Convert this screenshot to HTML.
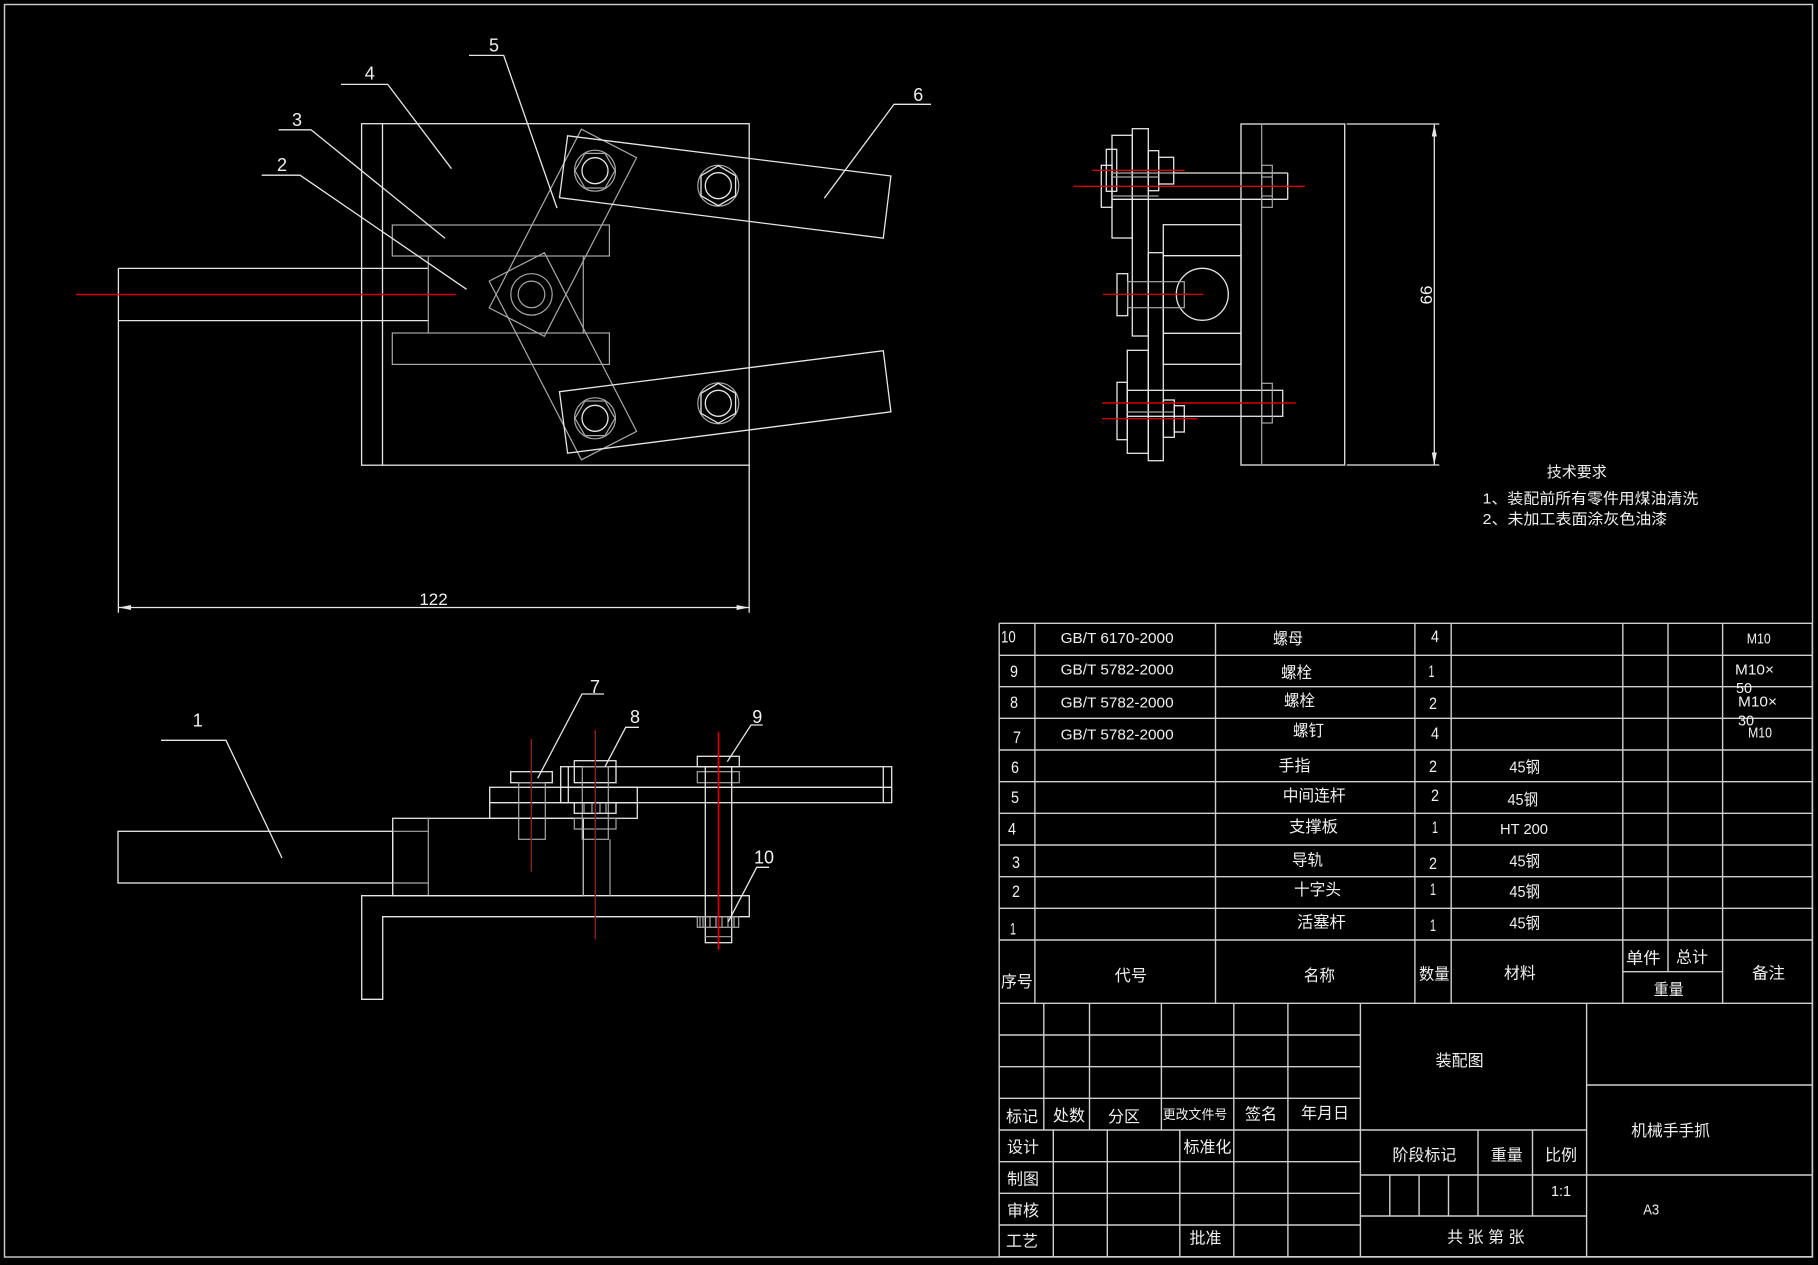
<!DOCTYPE html>
<html>
<head>
<meta charset="utf-8">
<style>
  html,body{margin:0;padding:0;background:#000;overflow:hidden;}
  svg{display:block;}
  .w{stroke:#e6e6e6;stroke-width:1.3;fill:none;}
  .g{stroke:#a8a8a8;stroke-width:1.2;fill:none;}
  .t{stroke:#cfcfcf;stroke-width:1.4;fill:none;}
  .r{stroke:#d00000;stroke-width:1.4;fill:none;}
  text{fill:#f0f0f0;}
  .lat{font-family:"Liberation Sans",sans-serif;}
  .cjk{font-family:"Liberation Sans","Noto Sans CJK SC",sans-serif;}
</style>
</head>
<body>
<svg width="1818" height="1265" viewBox="0 0 1818 1265" xmlns="http://www.w3.org/2000/svg">
<rect x="0" y="0" width="1818" height="1265" fill="#000"/>
<!-- outer border -->
<rect x="4.5" y="4.5" width="1808" height="1252.5" class="t"/>

<!-- ================= TOP VIEW ================= -->
<!-- plate -->
<rect x="361.6" y="123.7" width="387.6" height="341.5" class="w"/>
<line x1="382.5" y1="123.7" x2="382.5" y2="465.2" class="w"/>
<!-- rod -->
<line x1="118.4" y1="268.4" x2="428.3" y2="268.4" class="w"/>
<line x1="118.4" y1="320.6" x2="428.3" y2="320.6" class="w"/>
<line x1="118.4" y1="268.4" x2="118.4" y2="612.7" class="w"/>
<!-- crosshead -->
<line x1="428.3" y1="256" x2="428.3" y2="333" class="g"/>
<line x1="583.3" y1="256" x2="583.3" y2="333" class="g"/>
<!-- rails -->
<rect x="392.3" y="225" width="217.1" height="31" class="g"/>
<rect x="392.3" y="333" width="217.1" height="31.4" class="g"/>
<!-- links -->
<polygon points="544.4,252.7 636.6,431.4 581.4,459.8 489.2,281.1" class="g"/>
<polygon points="489.2,307.9 581.4,129.2 636.6,157.6 544.4,336.3" class="g"/>
<!-- pin -->
<circle cx="531.5" cy="294.4" r="20.7" class="g"/>
<circle cx="531.5" cy="294.4" r="13.3" class="g"/>
<!-- fingers -->
<polygon points="567.6,135.8 890.9,176 883.3,238.2 559.5,197.7" class="w"/>
<polygon points="559.5,391.7 883.3,350.7 890.9,411.8 567.6,453.2" class="w"/>
<!-- bolts -->
<circle cx="595" cy="170.7" r="20.5" class="g"/>
<polygon points="615,170.7 605,188 585,188 575,170.7 585,153.4 605,153.4" class="g"/>
<circle cx="595" cy="170.7" r="13" class="w"/>
<circle cx="718.3" cy="185.7" r="20.5" class="g"/>
<polygon points="718.3,165.7 735.6,175.7 735.6,195.7 718.3,205.7 701,195.7 701,175.7" class="w"/>
<circle cx="718.3" cy="185.7" r="13" class="w"/>
<circle cx="595" cy="418.3" r="20.5" class="g"/>
<polygon points="615,418.3 605,435.6 585,435.6 575,418.3 585,401 605,401" class="g"/>
<circle cx="595" cy="418.3" r="13" class="w"/>
<circle cx="718.3" cy="403.3" r="20.5" class="g"/>
<polygon points="718.3,383.3 735.6,393.3 735.6,413.3 718.3,423.3 701,413.3 701,393.3" class="w"/>
<circle cx="718.3" cy="403.3" r="13" class="w"/>
<!-- red center line -->
<line x1="76" y1="294.5" x2="456" y2="294.5" class="r"/>
<!-- dimension 122 -->
<line x1="749.2" y1="465.2" x2="749.2" y2="612.7" class="w"/>
<line x1="118.4" y1="607.5" x2="749.2" y2="607.5" class="w"/>
<polygon points="118.4,607.5 131,605 131,610" fill="#e6e6e6"/>
<polygon points="749.2,607.5 736.6,605 736.6,610" fill="#e6e6e6"/>
<text x="433.5" y="605" font-size="17" text-anchor="middle" class="lat">122</text>
<!-- leaders top view -->
<polyline points="341,84.4 387.7,84.4 451.5,168.7" class="w"/>
<text x="369.7" y="79.5" font-size="18" text-anchor="middle" class="lat">4</text>
<polyline points="278.6,129.8 311,129.8 445,238.2" class="w"/>
<text x="297" y="126" font-size="18" text-anchor="middle" class="lat">3</text>
<polyline points="261.7,175.2 300,175.2 466.6,289.3" class="w"/>
<text x="282" y="171" font-size="18" text-anchor="middle" class="lat">2</text>
<polyline points="469,55.4 503.7,55.4 557,208.1" class="w"/>
<text x="494" y="51.5" font-size="18" text-anchor="middle" class="lat">5</text>
<polyline points="931,104.3 894,104.3 824.3,198.3" class="w"/>
<text x="918.3" y="101" font-size="18" text-anchor="middle" class="lat">6</text>

<!-- ================= SIDE VIEW ================= -->
<rect x="1241" y="124" width="103.7" height="341" class="w"/>
<line x1="1261.7" y1="124" x2="1261.7" y2="465" class="g"/>
<line x1="1346.7" y1="124" x2="1439.3" y2="124" class="w"/>
<line x1="1346.7" y1="465" x2="1439.3" y2="465" class="w"/>
<line x1="1434.3" y1="124" x2="1434.3" y2="465" class="w"/>
<polygon points="1434.3,124 1431.8,136.5 1436.8,136.5" fill="#e6e6e6"/>
<polygon points="1434.3,465 1431.8,452.5 1436.8,452.5" fill="#e6e6e6"/>
<text x="0" y="0" font-size="17" text-anchor="middle" class="lat" transform="translate(1432,295) rotate(-90)">66</text>
<!-- upper cluster -->
<rect x="1132.3" y="128.7" width="16" height="207.3" class="w"/>
<rect x="1112" y="135.3" width="20.3" height="102.7" class="w"/>
<rect x="1106.3" y="149.3" width="10.4" height="42" class="w"/>
<rect x="1101.3" y="165.3" width="10.7" height="42" class="w"/>
<rect x="1148.3" y="150.7" width="10.4" height="40" class="w"/>
<rect x="1158.7" y="157.3" width="15" height="26.7" class="w"/>
<line x1="1173.7" y1="173" x2="1287.7" y2="173" class="w"/>
<line x1="1112" y1="199.3" x2="1287.7" y2="199.3" class="w"/>
<line x1="1287.7" y1="173" x2="1287.7" y2="199.3" class="w"/>
<line x1="1112" y1="173" x2="1173.7" y2="173" class="g"/>
<line x1="1112" y1="177" x2="1158.7" y2="177" class="g"/>
<line x1="1112" y1="196" x2="1158.7" y2="196" class="g"/>
<rect x="1261.7" y="165.3" width="10.6" height="42" class="g"/>
<line x1="1261.7" y1="177" x2="1272.3" y2="177" class="g"/>
<line x1="1261.7" y1="196" x2="1272.3" y2="196" class="g"/>
<line x1="1092" y1="170.3" x2="1184.7" y2="170.3" class="r"/>
<line x1="1073" y1="186.3" x2="1305" y2="186.3" class="r"/>
<!-- middle block -->
<rect x="1163.3" y="224.7" width="77.7" height="139.6" class="w"/>
<line x1="1163.3" y1="255.7" x2="1241" y2="255.7" class="w"/>
<line x1="1163.3" y1="333.3" x2="1241" y2="333.3" class="w"/>
<rect x="1148.3" y="252.7" width="15" height="208" class="w"/>
<circle cx="1202.3" cy="294.3" r="26" class="w"/>
<rect x="1117" y="273.7" width="10.7" height="42" class="w"/>
<rect x="1127.7" y="281.7" width="56.6" height="26" class="g"/>
<line x1="1103" y1="294.3" x2="1203" y2="294.3" class="r"/>
<!-- lower cluster -->
<rect x="1127.3" y="350.3" width="21" height="103" class="w"/>
<rect x="1117" y="382.3" width="10.3" height="57.4" class="w"/>
<rect x="1127.3" y="390.3" width="155.4" height="26" class="w"/>
<rect x="1261.7" y="383.3" width="10.6" height="39.7" class="g"/>
<rect x="1163.3" y="400" width="11" height="37.3" class="w"/>
<rect x="1174.3" y="405.7" width="10" height="26.3" class="w"/>
<line x1="1127.3" y1="412" x2="1174.3" y2="412" class="g"/>
<line x1="1102" y1="403" x2="1295.7" y2="403" class="r"/>
<line x1="1102" y1="418.7" x2="1197.7" y2="418.7" class="r"/>

<!-- tech requirements -->
<text x="1576.7" y="477" font-size="15" text-anchor="middle" class="cjk">技术要求</text>
<text x="1482.7" y="503.5" font-size="15" class="cjk" textLength="215.6" lengthAdjust="spacingAndGlyphs">1、装配前所有零件用煤油清洗</text>
<text x="1482.7" y="524.2" font-size="15" class="cjk" textLength="184.6" lengthAdjust="spacingAndGlyphs">2、未加工表面涂灰色油漆</text>

<!-- ================= FRONT VIEW ================= -->
<rect x="118" y="831.3" width="274.7" height="51.7" class="w"/>
<rect x="392.7" y="818.3" width="190.6" height="77.4" class="w"/>
<line x1="428.3" y1="818.3" x2="428.3" y2="895.7" class="g"/>
<line x1="392.7" y1="831.3" x2="428.3" y2="831.3" class="g"/>
<line x1="392.7" y1="883" x2="428.3" y2="883" class="g"/>
<polygon points="361.7,895.7 749.3,895.7 749.3,916.7 382.7,916.7 382.7,999.3 361.7,999.3" class="w"/>
<!-- block under bolt 7 -->
<rect x="489.7" y="787.3" width="147.6" height="31" class="w"/>
<line x1="489.7" y1="802.7" x2="637.3" y2="802.7" class="w"/>
<!-- finger side -->
<rect x="560.7" y="766.7" width="331" height="36" class="w"/>
<line x1="560.7" y1="787.3" x2="891.7" y2="787.3" class="w"/>
<line x1="568.3" y1="766.7" x2="568.3" y2="802.7" class="w"/>
<line x1="883.3" y1="766.7" x2="883.3" y2="802.7" class="w"/>
<!-- bolt 7 -->
<rect x="510.7" y="771.7" width="41.6" height="11" class="w"/>
<rect x="518.7" y="782.7" width="26.6" height="56.6" class="g"/>
<!-- bolt 8 -->
<rect x="574.3" y="760.7" width="41.7" height="22" class="w"/>
<rect x="582.3" y="766.7" width="26" height="72.6" class="g"/>
<rect x="574.3" y="802.7" width="41.7" height="10.6" class="w"/>
<rect x="574.3" y="818.3" width="41.7" height="10.7" class="g"/>
<line x1="584" y1="802.7" x2="584" y2="813.3" class="g"/>
<line x1="592" y1="802.7" x2="592" y2="813.3" class="g"/>
<line x1="600" y1="802.7" x2="600" y2="813.3" class="g"/>
<line x1="606" y1="802.7" x2="606" y2="813.3" class="g"/>
<line x1="583.3" y1="839.3" x2="583.3" y2="895.7" class="g"/>
<line x1="610" y1="839.3" x2="610" y2="895.7" class="g"/>
<!-- bolt 9 -->
<rect x="697.3" y="756.3" width="42" height="10.4" class="w"/>
<rect x="697.3" y="771.7" width="42" height="11" class="g"/>
<rect x="705.3" y="766.7" width="26.4" height="176" class="w"/>
<line x1="705.3" y1="936.7" x2="731.7" y2="936.7" class="g"/>
<!-- nut 10 -->
<rect x="697.3" y="916.7" width="41.4" height="10.6" class="g"/>
<line x1="700" y1="916.7" x2="700" y2="927.3" class="g"/>
<line x1="703" y1="916.7" x2="703" y2="927.3" class="g"/>
<line x1="710" y1="916.7" x2="710" y2="927.3" class="g"/>
<line x1="716" y1="916.7" x2="716" y2="927.3" class="g"/>
<line x1="722" y1="916.7" x2="722" y2="927.3" class="g"/>
<line x1="728" y1="916.7" x2="728" y2="927.3" class="g"/>
<line x1="734" y1="916.7" x2="734" y2="927.3" class="g"/>
<!-- red center lines -->
<line x1="531.3" y1="739" x2="531.3" y2="871.7" class="r"/>
<line x1="595.3" y1="730" x2="595.3" y2="939.3" class="r"/>
<line x1="718.3" y1="731.7" x2="718.3" y2="950" class="r"/>
<!-- leaders front view -->
<polyline points="161,740.3 226,740.3 282,858" class="w"/>
<text x="197.7" y="726.5" font-size="18" text-anchor="middle" class="lat">1</text>
<polyline points="604,694 582,694 537.7,778.3" class="w"/>
<text x="595" y="693" font-size="18" text-anchor="middle" class="lat">7</text>
<polyline points="639,727.3 625.7,727.3 605,766.7" class="w"/>
<text x="635" y="723" font-size="18" text-anchor="middle" class="lat">8</text>
<polyline points="762.7,725 751,725 727.3,761.7" class="w"/>
<text x="757.3" y="723" font-size="18" text-anchor="middle" class="lat">9</text>
<polyline points="769,867.3 756.7,867.3 728.3,921.7" class="w"/>
<text x="764" y="863.5" font-size="18" text-anchor="middle" class="lat">10</text>

<!-- ================= PARTS LIST ================= -->
<g class="t">
<line x1="999.2" y1="623.3" x2="1812.3" y2="623.3"/>
<line x1="999.2" y1="655.3" x2="1812.3" y2="655.3"/>
<line x1="999.2" y1="686.7" x2="1812.3" y2="686.7"/>
<line x1="999.2" y1="718.3" x2="1812.3" y2="718.3"/>
<line x1="999.2" y1="750" x2="1812.3" y2="750"/>
<line x1="999.2" y1="781.7" x2="1812.3" y2="781.7"/>
<line x1="999.2" y1="813.3" x2="1812.3" y2="813.3"/>
<line x1="999.2" y1="845" x2="1812.3" y2="845"/>
<line x1="999.2" y1="876.7" x2="1812.3" y2="876.7"/>
<line x1="999.2" y1="908.3" x2="1812.3" y2="908.3"/>
<line x1="999.2" y1="940" x2="1812.3" y2="940"/>
<line x1="999.2" y1="1003.3" x2="1812.3" y2="1003.3"/>
<line x1="1622.8" y1="971.7" x2="1722.6" y2="971.7"/>
<line x1="999.2" y1="623.3" x2="999.2" y2="1256.7"/>
<line x1="1034.9" y1="623.3" x2="1034.9" y2="1003.3"/>
<line x1="1215.5" y1="623.3" x2="1215.5" y2="1003.3"/>
<line x1="1414.9" y1="623.3" x2="1414.9" y2="1003.3"/>
<line x1="1451.2" y1="623.3" x2="1451.2" y2="1003.3"/>
<line x1="1622.8" y1="623.3" x2="1622.8" y2="1003.3"/>
<line x1="1668" y1="623.3" x2="1668" y2="971.7"/>
<line x1="1722.6" y1="623.3" x2="1722.6" y2="1003.3"/>
<line x1="1812.3" y1="623.3" x2="1812.3" y2="1256.7"/>
</g>
<!-- parts text -->
<g class="lat" font-size="17">
<text x="1001" y="642.5" textLength="14.7" lengthAdjust="spacingAndGlyphs">10</text>
<text x="1010" y="677" textLength="8" lengthAdjust="spacingAndGlyphs">9</text>
<text x="1010" y="707.8" textLength="8" lengthAdjust="spacingAndGlyphs">8</text>
<text x="1013" y="742.8" textLength="8" lengthAdjust="spacingAndGlyphs">7</text>
<text x="1011" y="772.8" textLength="8" lengthAdjust="spacingAndGlyphs">6</text>
<text x="1011" y="802.8" textLength="8" lengthAdjust="spacingAndGlyphs">5</text>
<text x="1008" y="834.4" textLength="8" lengthAdjust="spacingAndGlyphs">4</text>
<text x="1012" y="867.8" textLength="8" lengthAdjust="spacingAndGlyphs">3</text>
<text x="1012" y="897.1" textLength="8" lengthAdjust="spacingAndGlyphs">2</text>
<text x="1010" y="934.4" textLength="6" lengthAdjust="spacingAndGlyphs">1</text>
<!-- qty -->
<text x="1431" y="642" textLength="8" lengthAdjust="spacingAndGlyphs">4</text>
<text x="1428.5" y="677" textLength="6" lengthAdjust="spacingAndGlyphs">1</text>
<text x="1429" y="709" textLength="8" lengthAdjust="spacingAndGlyphs">2</text>
<text x="1431" y="738.8" textLength="8" lengthAdjust="spacingAndGlyphs">4</text>
<text x="1429" y="771.8" textLength="8" lengthAdjust="spacingAndGlyphs">2</text>
<text x="1431" y="801" textLength="8" lengthAdjust="spacingAndGlyphs">2</text>
<text x="1432" y="833" textLength="6" lengthAdjust="spacingAndGlyphs">1</text>
<text x="1429" y="869" textLength="8" lengthAdjust="spacingAndGlyphs">2</text>
<text x="1430" y="895" textLength="6" lengthAdjust="spacingAndGlyphs">1</text>
<text x="1430" y="931" textLength="6" lengthAdjust="spacingAndGlyphs">1</text>
</g>
<g class="lat" font-size="15">
<text x="1060.6" y="643.1" textLength="113" lengthAdjust="spacingAndGlyphs">GB/T 6170-2000</text>
<text x="1060.6" y="674.7" textLength="113" lengthAdjust="spacingAndGlyphs">GB/T 5782-2000</text>
<text x="1060.6" y="707.7" textLength="113" lengthAdjust="spacingAndGlyphs">GB/T 5782-2000</text>
<text x="1060.6" y="739.7" textLength="113" lengthAdjust="spacingAndGlyphs">GB/T 5782-2000</text>
<text x="1746.7" y="643.4" textLength="24" lengthAdjust="spacingAndGlyphs">M10</text>
<text x="1735" y="674.4" textLength="39" lengthAdjust="spacingAndGlyphs">M10×</text>
<text x="1736" y="693" textLength="16" lengthAdjust="spacingAndGlyphs">50</text>
<text x="1738" y="706.4" textLength="39" lengthAdjust="spacingAndGlyphs">M10×</text>
<text x="1738" y="725.4" textLength="16" lengthAdjust="spacingAndGlyphs">30</text>
<text x="1748" y="737.7" textLength="24" lengthAdjust="spacingAndGlyphs">M10</text>
<text x="1500" y="834" textLength="48" lengthAdjust="spacingAndGlyphs">HT 200</text>
</g>
<g class="cjk" font-size="16">
<text x="1273" y="644" textLength="30" lengthAdjust="spacingAndGlyphs">螺母</text>
<text x="1281" y="678" textLength="31" lengthAdjust="spacingAndGlyphs">螺栓</text>
<text x="1284" y="706" textLength="31" lengthAdjust="spacingAndGlyphs">螺栓</text>
<text x="1293" y="736" textLength="31" lengthAdjust="spacingAndGlyphs">螺钉</text>
<text x="1278.5" y="771" textLength="32" lengthAdjust="spacingAndGlyphs">手指</text>
<text x="1282.7" y="801" textLength="63" lengthAdjust="spacingAndGlyphs">中间连杆</text>
<text x="1289" y="832" textLength="49" lengthAdjust="spacingAndGlyphs">支撑板</text>
<text x="1292" y="865.3" textLength="31" lengthAdjust="spacingAndGlyphs">导轨</text>
<text x="1294" y="895" textLength="47" lengthAdjust="spacingAndGlyphs">十字头</text>
<text x="1297" y="927.7" textLength="48.7" lengthAdjust="spacingAndGlyphs">活塞杆</text>
<text x="1509.4" y="772.7" textLength="30.6" lengthAdjust="spacingAndGlyphs">45钢</text>
<text x="1507.5" y="805" textLength="30.6" lengthAdjust="spacingAndGlyphs">45钢</text>
<text x="1509.4" y="866.7" textLength="30.6" lengthAdjust="spacingAndGlyphs">45钢</text>
<text x="1509.4" y="897" textLength="30.6" lengthAdjust="spacingAndGlyphs">45钢</text>
<text x="1509.4" y="928.3" textLength="30.6" lengthAdjust="spacingAndGlyphs">45钢</text>
<!-- header -->
<text x="1001" y="987" textLength="31.8" lengthAdjust="spacingAndGlyphs">序号</text>
<text x="1114.7" y="981" textLength="32.3" lengthAdjust="spacingAndGlyphs">代号</text>
<text x="1303.7" y="981" textLength="31.3" lengthAdjust="spacingAndGlyphs">名称</text>
<text x="1419" y="979.3" textLength="30.6" lengthAdjust="spacingAndGlyphs">数量</text>
<text x="1504" y="978.3" textLength="31.7" lengthAdjust="spacingAndGlyphs">材料</text>
<text x="1626" y="963.7" textLength="34.6" lengthAdjust="spacingAndGlyphs">单件</text>
<text x="1676" y="962.7" textLength="32" lengthAdjust="spacingAndGlyphs">总计</text>
<text x="1653.8" y="995" textLength="29.9" lengthAdjust="spacingAndGlyphs">重量</text>
<text x="1752" y="978.3" textLength="33" lengthAdjust="spacingAndGlyphs">备注</text>
</g>

<!-- ================= TITLE BLOCK ================= -->
<g class="t">
<line x1="999.2" y1="1035" x2="1360.4" y2="1035"/>
<line x1="999.2" y1="1066.7" x2="1360.4" y2="1066.7"/>
<line x1="999.2" y1="1098.3" x2="1360.4" y2="1098.3"/>
<line x1="999.2" y1="1130" x2="1586.6" y2="1130"/>
<line x1="999.2" y1="1161.7" x2="1360.4" y2="1161.7"/>
<line x1="999.2" y1="1193.3" x2="1360.4" y2="1193.3"/>
<line x1="999.2" y1="1225" x2="1360.4" y2="1225"/>
<line x1="999.2" y1="1256.7" x2="1812.3" y2="1256.7"/>
<line x1="1043.8" y1="1003.3" x2="1043.8" y2="1130"/>
<line x1="1089.5" y1="1003.3" x2="1089.5" y2="1130"/>
<line x1="1161.4" y1="1003.3" x2="1161.4" y2="1130"/>
<line x1="1053.3" y1="1130" x2="1053.3" y2="1256.7"/>
<line x1="1107.3" y1="1130" x2="1107.3" y2="1256.7"/>
<line x1="1179.8" y1="1130" x2="1179.8" y2="1256.7"/>
<line x1="1233.8" y1="1003.3" x2="1233.8" y2="1256.7"/>
<line x1="1287.9" y1="1003.3" x2="1287.9" y2="1256.7"/>
<line x1="1360.4" y1="1003.3" x2="1360.4" y2="1256.7"/>
<line x1="1586.6" y1="1003.3" x2="1586.6" y2="1256.7"/>
<line x1="1360.4" y1="1175" x2="1812.3" y2="1175"/>
<line x1="1360.4" y1="1216" x2="1586.6" y2="1216"/>
<line x1="1478" y1="1130" x2="1478" y2="1216"/>
<line x1="1532.5" y1="1130" x2="1532.5" y2="1216"/>
<line x1="1389.8" y1="1175" x2="1389.8" y2="1216"/>
<line x1="1419.1" y1="1175" x2="1419.1" y2="1216"/>
<line x1="1448.5" y1="1175" x2="1448.5" y2="1216"/>
<line x1="1586.6" y1="1085" x2="1812.3" y2="1085"/>
</g>
<g class="cjk" font-size="16" text-anchor="middle">
<text x="1022" y="1122">标记</text>
<text x="1069" y="1121">处数</text>
<text x="1124" y="1122">分区</text>
<text x="1195" y="1119" font-size="13" textLength="64.5" lengthAdjust="spacingAndGlyphs">更改文件号</text>
<text x="1261" y="1119.3">签名</text>
<text x="1325" y="1118.7">年月日</text>
<text x="1023" y="1152.7">设计</text>
<text x="1207.5" y="1152.7">标准化</text>
<text x="1023" y="1184.3">制图</text>
<text x="1023" y="1216">审核</text>
<text x="1022" y="1246.7">工艺</text>
<text x="1205.5" y="1243.3">批准</text>
<text x="1459.6" y="1066">装配图</text>
<text x="1424.4" y="1160.3">阶段标记</text>
<text x="1506.8" y="1160.3">重量</text>
<text x="1561" y="1160.3">比例</text>
<text x="1485.8" y="1242.7">共 张 第 张</text>
<text x="1670.6" y="1136" textLength="79" lengthAdjust="spacingAndGlyphs">机械手手抓</text>
</g>
<text x="1561" y="1196" font-size="15" text-anchor="middle" class="lat" textLength="20" lengthAdjust="spacingAndGlyphs">1:1</text>
<text x="1651.2" y="1214.7" font-size="15" text-anchor="middle" class="lat" textLength="16" lengthAdjust="spacingAndGlyphs">A3</text>
</svg>
</body>
</html>
